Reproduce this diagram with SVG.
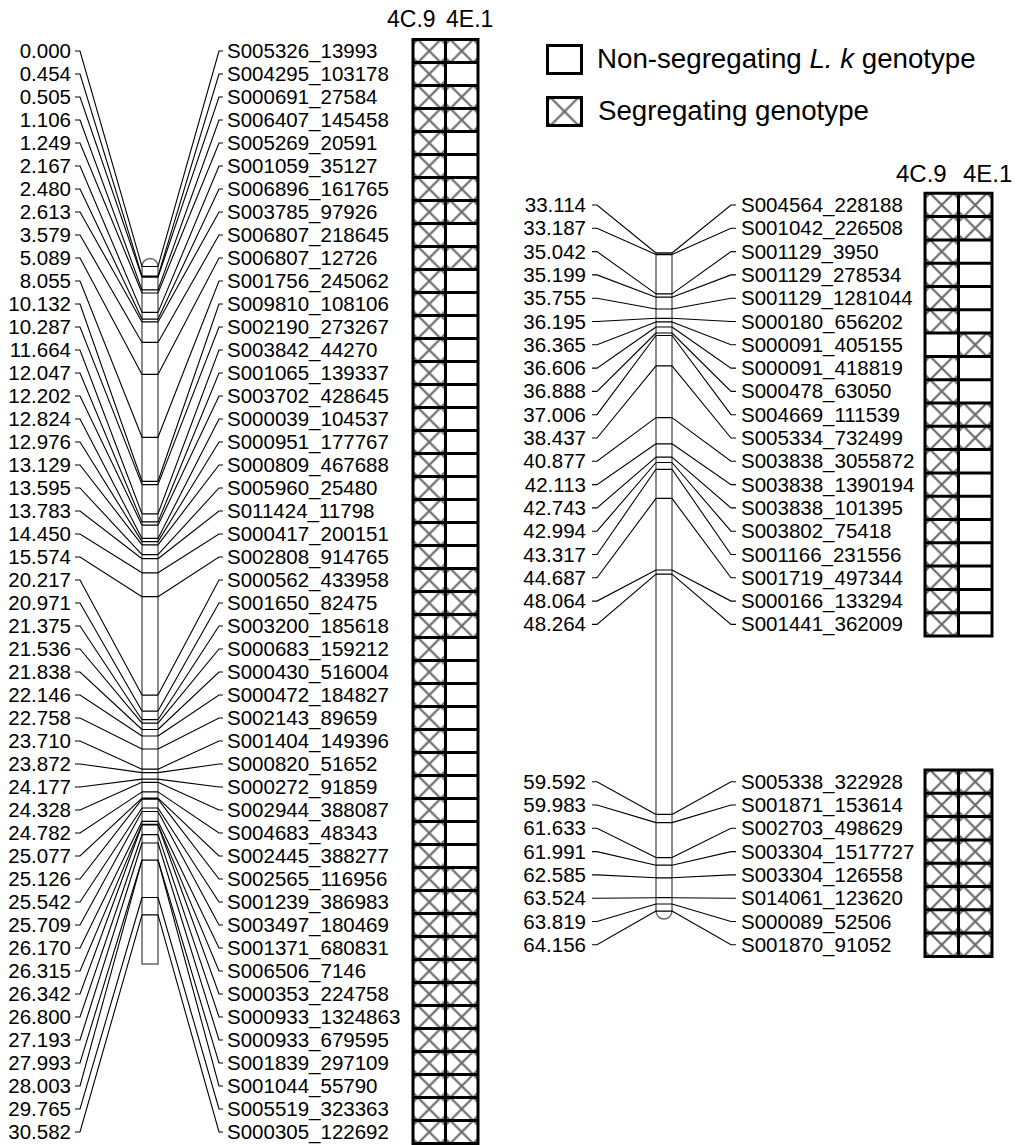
<svg xmlns="http://www.w3.org/2000/svg" width="1019" height="1145" viewBox="0 0 1019 1145">
<style>
text{font-family:"Liberation Sans",Arial,sans-serif;font-size:20.5px;fill:#000}
.e{text-anchor:end}
.hd{font-size:23px}
.hr{font-size:24px}
.lg{font-size:27.7px}
.chr{fill:#fff;stroke:#666;stroke-width:1.5}
.mk{stroke:#000;stroke-width:1.2;fill:none}
.con path{stroke:#000;stroke-width:1.1;fill:none}
.grid{stroke:#000;stroke-width:3;fill:none}
.xl{stroke:#6a6a6a;stroke-width:2.2}
</style>
<defs>
<pattern id="xA" patternUnits="userSpaceOnUse" x="413" y="39.5" width="32.5" height="23">
<path class="xl" d="M4.75 0L27.75 23M4.75 23L27.75 0M0 4.75L4.75 0M27.75 0L32.5 4.75M0 18.25L4.75 23M27.75 23L32.5 18.25"/>
</pattern>
<pattern id="xB" patternUnits="userSpaceOnUse" x="925" y="193.3" width="33.5" height="23.3">
<path class="xl" d="M5.1 0L28.4 23.3M5.1 23.3L28.4 0M0 5.1L5.1 0M28.4 0L33.5 5.1M0 18.2L5.1 23.3M28.4 23.3L33.5 18.2"/>
</pattern>
<pattern id="xC" patternUnits="userSpaceOnUse" x="925" y="770" width="33.5" height="23.3">
<path class="xl" d="M5.1 0L28.4 23.3M5.1 23.3L28.4 0M0 5.1L5.1 0M28.4 0L33.5 5.1M0 18.2L5.1 23.3M28.4 23.3L33.5 18.2"/>
</pattern>
<pattern id="xL" patternUnits="userSpaceOnUse" x="547.5" y="97.5" width="34" height="28">
<path class="xl" d="M3 0L31 28M3 28L31 0M0 3L3 0M31 0L34 3M0 25L3 28M31 28L34 25"/>
</pattern>
</defs>

<g id="legend">
<rect x="547.5" y="45.5" width="34" height="28" fill="#fff" class="grid"/>
<text class="lg" x="597" y="68">Non-segregating <tspan font-style="italic">L. k</tspan> genotype</text>
<rect x="547.5" y="97.5" width="34" height="28" fill="url(#xL)"/>
<rect x="547.5" y="97.5" width="34" height="28" class="grid"/>
<text class="lg" x="598" y="120">Segregating genotype</text>
</g>

<g id="chromosome-left">
<path class="chr" d="M142 266.5A8 8 0 0 1 158 266.5V964H142Z"/>
<path class="mk" d="M142 266.5H158M142 276.1H158M142 277.2H158M142 289.9H158M142 293H158M142 312.4H158M142 319.1H158M142 321.9H158M142 342.4H158M142 374.4H158M142 437.3H158M142 481.3H158M142 484.6H158M142 513.8H158M142 521.9H158M142 525.2H158M142 538.4H158M142 541.6H158M142 544.8H158M142 554.7H158M142 558.7H158M142 572.8H158M142 596.7H158M142 695.1H158M142 711.1H158M142 719.7H158M142 723.1H158M142 729.5H158M142 736H158M142 749H158M142 769.2H158M142 772.6H158M142 779.1H158M142 782.3H158M142 791.9H158M142 798.1H158M142 799.2H158M142 808H158M142 811.5H158M142 821.3H158M142 824.4H158M142 825H158M142 834.7H158M142 843H158M142 860H158M142 860.2H158M142 897.5H158M142 914.8H158"/>
</g>

<g id="chromosome-right">
<path class="chr" d="M656 253V911.1A8 8 0 0 0 672 911.1V253Z"/>
<path class="mk" d="M656 253H672M656 254.6H672M656 293.9H672M656 297.2H672M656 309H672M656 318.3H672M656 321.9H672M656 327H672M656 333H672M656 335.5H672M656 365.9H672M656 417.6H672M656 443.8H672M656 457.2H672M656 462.5H672M656 469.3H672M656 498.4H672M656 570H672M656 574.2H672M656 814.4H672M656 822.6H672M656 857.6H672M656 865.2H672M656 877.8H672M656 897.7H672M656 904H672M656 911.1H672"/>
</g>

<g id="connectors" class="con">
<path d="M75 51H80L142 266.5M158 266.5L219 51H223"/>
<path d="M75 74H80L142 276.1M158 276.1L219 74H223"/>
<path d="M75 97H80L142 277.2M158 277.2L219 97H223"/>
<path d="M75 120H80L142 289.9M158 289.9L219 120H223"/>
<path d="M75 143H80L142 293M158 293L219 143H223"/>
<path d="M75 166H80L142 312.4M158 312.4L219 166H223"/>
<path d="M75 189H80L142 319.1M158 319.1L219 189H223"/>
<path d="M75 212H80L142 321.9M158 321.9L219 212H223"/>
<path d="M75 235H80L142 342.4M158 342.4L219 235H223"/>
<path d="M75 258H80L142 374.4M158 374.4L219 258H223"/>
<path d="M75 281H80L142 437.3M158 437.3L219 281H223"/>
<path d="M75 304H80L142 481.3M158 481.3L219 304H223"/>
<path d="M75 327H80L142 484.6M158 484.6L219 327H223"/>
<path d="M75 350H80L142 513.8M158 513.8L219 350H223"/>
<path d="M75 373H80L142 521.9M158 521.9L219 373H223"/>
<path d="M75 396H80L142 525.2M158 525.2L219 396H223"/>
<path d="M75 419H80L142 538.4M158 538.4L219 419H223"/>
<path d="M75 442H80L142 541.6M158 541.6L219 442H223"/>
<path d="M75 465H80L142 544.8M158 544.8L219 465H223"/>
<path d="M75 488H80L142 554.7M158 554.7L219 488H223"/>
<path d="M75 511H80L142 558.7M158 558.7L219 511H223"/>
<path d="M75 534H80L142 572.8M158 572.8L219 534H223"/>
<path d="M75 557H80L142 596.7M158 596.7L219 557H223"/>
<path d="M75 580H80L142 695.1M158 695.1L219 580H223"/>
<path d="M75 603H80L142 711.1M158 711.1L219 603H223"/>
<path d="M75 626H80L142 719.7M158 719.7L219 626H223"/>
<path d="M75 649H80L142 723.1M158 723.1L219 649H223"/>
<path d="M75 672H80L142 729.5M158 729.5L219 672H223"/>
<path d="M75 695H80L142 736M158 736L219 695H223"/>
<path d="M75 718H80L142 749M158 749L219 718H223"/>
<path d="M75 741H80L142 769.2M158 769.2L219 741H223"/>
<path d="M75 764H80L142 772.6M158 772.6L219 764H223"/>
<path d="M75 787H80L142 779.1M158 779.1L219 787H223"/>
<path d="M75 810H80L142 782.3M158 782.3L219 810H223"/>
<path d="M75 833H80L142 791.9M158 791.9L219 833H223"/>
<path d="M75 856H80L142 798.1M158 798.1L219 856H223"/>
<path d="M75 879H80L142 799.2M158 799.2L219 879H223"/>
<path d="M75 902H80L142 808M158 808L219 902H223"/>
<path d="M75 925H80L142 811.5M158 811.5L219 925H223"/>
<path d="M75 948H80L142 821.3M158 821.3L219 948H223"/>
<path d="M75 971H80L142 824.4M158 824.4L219 971H223"/>
<path d="M75 994H80L142 825M158 825L219 994H223"/>
<path d="M75 1017H80L142 834.7M158 834.7L219 1017H223"/>
<path d="M75 1040H80L142 843M158 843L219 1040H223"/>
<path d="M75 1063H80L142 860M158 860L219 1063H223"/>
<path d="M75 1086H80L142 860.2M158 860.2L219 1086H223"/>
<path d="M75 1109H80L142 897.5M158 897.5L219 1109H223"/>
<path d="M75 1132H80L142 914.8M158 914.8L219 1132H223"/>

<path d="M592 205H597L656 253M672 253L731 205H736"/>
<path d="M592 228.3H597L656 254.6M672 254.6L731 228.3H736"/>
<path d="M592 251.6H597L656 293.9M672 293.9L731 251.6H736"/>
<path d="M592 274.9H597L656 297.2M672 297.2L731 274.9H736"/>
<path d="M592 298.2H597L656 309M672 309L731 298.2H736"/>
<path d="M592 321.5H597L656 318.3M672 318.3L731 321.5H736"/>
<path d="M592 344.8H597L656 321.9M672 321.9L731 344.8H736"/>
<path d="M592 368.1H597L656 327M672 327L731 368.1H736"/>
<path d="M592 391.4H597L656 333M672 333L731 391.4H736"/>
<path d="M592 414.7H597L656 335.5M672 335.5L731 414.7H736"/>
<path d="M592 438H597L656 365.9M672 365.9L731 438H736"/>
<path d="M592 461.3H597L656 417.6M672 417.6L731 461.3H736"/>
<path d="M592 484.6H597L656 443.8M672 443.8L731 484.6H736"/>
<path d="M592 507.9H597L656 457.2M672 457.2L731 507.9H736"/>
<path d="M592 531.2H597L656 462.5M672 462.5L731 531.2H736"/>
<path d="M592 554.5H597L656 469.3M672 469.3L731 554.5H736"/>
<path d="M592 577.8H597L656 498.4M672 498.4L731 577.8H736"/>
<path d="M592 601.1H597L656 570M672 570L731 601.1H736"/>
<path d="M592 624.4H597L656 574.2M672 574.2L731 624.4H736"/>
<path d="M592 781.7H597L656 814.4M672 814.4L731 781.7H736"/>
<path d="M592 805H597L656 822.6M672 822.6L731 805H736"/>
<path d="M592 828.3H597L656 857.6M672 857.6L731 828.3H736"/>
<path d="M592 851.6H597L656 865.2M672 865.2L731 851.6H736"/>
<path d="M592 874.9H597L656 877.8M672 877.8L731 874.9H736"/>
<path d="M592 898.2H597L656 897.7M672 897.7L731 898.2H736"/>
<path d="M592 921.5H597L656 904M672 904L731 921.5H736"/>
<path d="M592 944.8H597L656 911.1M672 911.1L731 944.8H736"/>
</g>

<g id="labels-left-cM">
<text class="e" x="71" y="58">0.000</text>
<text class="e" x="71" y="81">0.454</text>
<text class="e" x="71" y="104">0.505</text>
<text class="e" x="71" y="127">1.106</text>
<text class="e" x="71" y="150">1.249</text>
<text class="e" x="71" y="173">2.167</text>
<text class="e" x="71" y="196">2.480</text>
<text class="e" x="71" y="219">2.613</text>
<text class="e" x="71" y="242">3.579</text>
<text class="e" x="71" y="265">5.089</text>
<text class="e" x="71" y="288">8.055</text>
<text class="e" x="71" y="311">10.132</text>
<text class="e" x="71" y="334">10.287</text>
<text class="e" x="71" y="357">11.664</text>
<text class="e" x="71" y="380">12.047</text>
<text class="e" x="71" y="403">12.202</text>
<text class="e" x="71" y="426">12.824</text>
<text class="e" x="71" y="449">12.976</text>
<text class="e" x="71" y="472">13.129</text>
<text class="e" x="71" y="495">13.595</text>
<text class="e" x="71" y="518">13.783</text>
<text class="e" x="71" y="541">14.450</text>
<text class="e" x="71" y="564">15.574</text>
<text class="e" x="71" y="587">20.217</text>
<text class="e" x="71" y="610">20.971</text>
<text class="e" x="71" y="633">21.375</text>
<text class="e" x="71" y="656">21.536</text>
<text class="e" x="71" y="679">21.838</text>
<text class="e" x="71" y="702">22.146</text>
<text class="e" x="71" y="725">22.758</text>
<text class="e" x="71" y="748">23.710</text>
<text class="e" x="71" y="771">23.872</text>
<text class="e" x="71" y="794">24.177</text>
<text class="e" x="71" y="817">24.328</text>
<text class="e" x="71" y="840">24.782</text>
<text class="e" x="71" y="863">25.077</text>
<text class="e" x="71" y="886">25.126</text>
<text class="e" x="71" y="909">25.542</text>
<text class="e" x="71" y="932">25.709</text>
<text class="e" x="71" y="955">26.170</text>
<text class="e" x="71" y="978">26.315</text>
<text class="e" x="71" y="1001">26.342</text>
<text class="e" x="71" y="1024">26.800</text>
<text class="e" x="71" y="1047">27.193</text>
<text class="e" x="71" y="1070">27.993</text>
<text class="e" x="71" y="1093">28.003</text>
<text class="e" x="71" y="1116">29.765</text>
<text class="e" x="71" y="1139">30.582</text>
</g>

<g id="labels-left-markers">
<text x="227" y="58">S005326_13993</text>
<text x="227" y="81">S004295_103178</text>
<text x="227" y="104">S000691_27584</text>
<text x="227" y="127">S006407_145458</text>
<text x="227" y="150">S005269_20591</text>
<text x="227" y="173">S001059_35127</text>
<text x="227" y="196">S006896_161765</text>
<text x="227" y="219">S003785_97926</text>
<text x="227" y="242">S006807_218645</text>
<text x="227" y="265">S006807_12726</text>
<text x="227" y="288">S001756_245062</text>
<text x="227" y="311">S009810_108106</text>
<text x="227" y="334">S002190_273267</text>
<text x="227" y="357">S003842_44270</text>
<text x="227" y="380">S001065_139337</text>
<text x="227" y="403">S003702_428645</text>
<text x="227" y="426">S000039_104537</text>
<text x="227" y="449">S000951_177767</text>
<text x="227" y="472">S000809_467688</text>
<text x="227" y="495">S005960_25480</text>
<text x="227" y="518">S011424_11798</text>
<text x="227" y="541">S000417_200151</text>
<text x="227" y="564">S002808_914765</text>
<text x="227" y="587">S000562_433958</text>
<text x="227" y="610">S001650_82475</text>
<text x="227" y="633">S003200_185618</text>
<text x="227" y="656">S000683_159212</text>
<text x="227" y="679">S000430_516004</text>
<text x="227" y="702">S000472_184827</text>
<text x="227" y="725">S002143_89659</text>
<text x="227" y="748">S001404_149396</text>
<text x="227" y="771">S000820_51652</text>
<text x="227" y="794">S000272_91859</text>
<text x="227" y="817">S002944_388087</text>
<text x="227" y="840">S004683_48343</text>
<text x="227" y="863">S002445_388277</text>
<text x="227" y="886">S002565_116956</text>
<text x="227" y="909">S001239_386983</text>
<text x="227" y="932">S003497_180469</text>
<text x="227" y="955">S001371_680831</text>
<text x="227" y="978">S006506_7146</text>
<text x="227" y="1001">S000353_224758</text>
<text x="227" y="1024">S000933_1324863</text>
<text x="227" y="1047">S000933_679595</text>
<text x="227" y="1070">S001839_297109</text>
<text x="227" y="1093">S001044_55790</text>
<text x="227" y="1116">S005519_323363</text>
<text x="227" y="1139">S000305_122692</text>
</g>

<g id="genotypes-left">
<text class="hd" x="387" y="27">4C.9</text>
<text class="hd" x="446" y="27">4E.1</text>
<rect x="413" y="39.5" width="32.5" height="1104" fill="url(#xA)"/>
<rect x="445.5" y="39.5" width="32.5" height="23" fill="url(#xA)"/>
<rect x="445.5" y="85.5" width="32.5" height="46" fill="url(#xA)"/>
<rect x="445.5" y="177.5" width="32.5" height="46" fill="url(#xA)"/>
<rect x="445.5" y="246.5" width="32.5" height="23" fill="url(#xA)"/>
<rect x="445.5" y="568.5" width="32.5" height="69" fill="url(#xA)"/>
<rect x="445.5" y="867.5" width="32.5" height="276" fill="url(#xA)"/>
<path class="grid" d="M413 39.5H478V1143.5H413ZM445.5 39.5V1143.5M413 62.5H478M413 85.5H478M413 108.5H478M413 131.5H478M413 154.5H478M413 177.5H478M413 200.5H478M413 223.5H478M413 246.5H478M413 269.5H478M413 292.5H478M413 315.5H478M413 338.5H478M413 361.5H478M413 384.5H478M413 407.5H478M413 430.5H478M413 453.5H478M413 476.5H478M413 499.5H478M413 522.5H478M413 545.5H478M413 568.5H478M413 591.5H478M413 614.5H478M413 637.5H478M413 660.5H478M413 683.5H478M413 706.5H478M413 729.5H478M413 752.5H478M413 775.5H478M413 798.5H478M413 821.5H478M413 844.5H478M413 867.5H478M413 890.5H478M413 913.5H478M413 936.5H478M413 959.5H478M413 982.5H478M413 1005.5H478M413 1028.5H478M413 1051.5H478M413 1074.5H478M413 1097.5H478M413 1120.5H478"/>
</g>

<g id="labels-right-cM">
<text class="e" x="586" y="212">33.114</text>
<text class="e" x="586" y="235.3">33.187</text>
<text class="e" x="586" y="258.6">35.042</text>
<text class="e" x="586" y="281.9">35.199</text>
<text class="e" x="586" y="305.2">35.755</text>
<text class="e" x="586" y="328.5">36.195</text>
<text class="e" x="586" y="351.8">36.365</text>
<text class="e" x="586" y="375.1">36.606</text>
<text class="e" x="586" y="398.4">36.888</text>
<text class="e" x="586" y="421.7">37.006</text>
<text class="e" x="586" y="445">38.437</text>
<text class="e" x="586" y="468.3">40.877</text>
<text class="e" x="586" y="491.6">42.113</text>
<text class="e" x="586" y="514.9">42.743</text>
<text class="e" x="586" y="538.2">42.994</text>
<text class="e" x="586" y="561.5">43.317</text>
<text class="e" x="586" y="584.8">44.687</text>
<text class="e" x="586" y="608.1">48.064</text>
<text class="e" x="586" y="631.4">48.264</text>
<text class="e" x="586" y="788.7">59.592</text>
<text class="e" x="586" y="812">59.983</text>
<text class="e" x="586" y="835.3">61.633</text>
<text class="e" x="586" y="858.6">61.991</text>
<text class="e" x="586" y="881.9">62.585</text>
<text class="e" x="586" y="905.2">63.524</text>
<text class="e" x="586" y="928.5">63.819</text>
<text class="e" x="586" y="951.8">64.156</text>
</g>

<g id="labels-right-markers">
<text x="741" y="212">S004564_228188</text>
<text x="741" y="235.3">S001042_226508</text>
<text x="741" y="258.6">S001129_3950</text>
<text x="741" y="281.9">S001129_278534</text>
<text x="741" y="305.2">S001129_1281044</text>
<text x="741" y="328.5">S000180_656202</text>
<text x="741" y="351.8">S000091_405155</text>
<text x="741" y="375.1">S000091_418819</text>
<text x="741" y="398.4">S000478_63050</text>
<text x="741" y="421.7">S004669_111539</text>
<text x="741" y="445">S005334_732499</text>
<text x="741" y="468.3">S003838_3055872</text>
<text x="741" y="491.6">S003838_1390194</text>
<text x="741" y="514.9">S003838_101395</text>
<text x="741" y="538.2">S003802_75418</text>
<text x="741" y="561.5">S001166_231556</text>
<text x="741" y="584.8">S001719_497344</text>
<text x="741" y="608.1">S000166_133294</text>
<text x="741" y="631.4">S001441_362009</text>
<text x="741" y="788.7">S005338_322928</text>
<text x="741" y="812">S001871_153614</text>
<text x="741" y="835.3">S002703_498629</text>
<text x="741" y="858.6">S003304_1517727</text>
<text x="741" y="881.9">S003304_126558</text>
<text x="741" y="905.2">S014061_123620</text>
<text x="741" y="928.5">S000089_52506</text>
<text x="741" y="951.8">S001870_91052</text>
</g>

<g id="genotypes-right">
<text class="hr" x="896" y="182">4C.9</text>
<text class="hr" x="963" y="182">4E.1</text>
<rect x="925" y="193.3" width="33.5" height="139.8" fill="url(#xB)"/>
<rect x="925" y="356.4" width="33.5" height="279.6" fill="url(#xB)"/>
<rect x="958.5" y="193.3" width="33.5" height="46.6" fill="url(#xB)"/>
<rect x="958.5" y="333.1" width="33.5" height="23.3" fill="url(#xB)"/>
<rect x="958.5" y="403" width="33.5" height="46.6" fill="url(#xB)"/>
<path class="grid" d="M925 193.3H992V636H925ZM958.5 193.3V636M925 216.6H992M925 239.9H992M925 263.2H992M925 286.5H992M925 309.8H992M925 333.1H992M925 356.4H992M925 379.7H992M925 403H992M925 426.3H992M925 449.6H992M925 472.9H992M925 496.2H992M925 519.5H992M925 542.8H992M925 566.1H992M925 589.4H992M925 612.7H992"/>
<rect x="925" y="770" width="67" height="186.4" fill="url(#xC)"/>
<path class="grid" d="M925 770H992V956.4H925ZM958.5 770V956.4M925 793.3H992M925 816.6H992M925 839.9H992M925 863.2H992M925 886.5H992M925 909.8H992M925 933.1H992"/>
</g>
</svg>
